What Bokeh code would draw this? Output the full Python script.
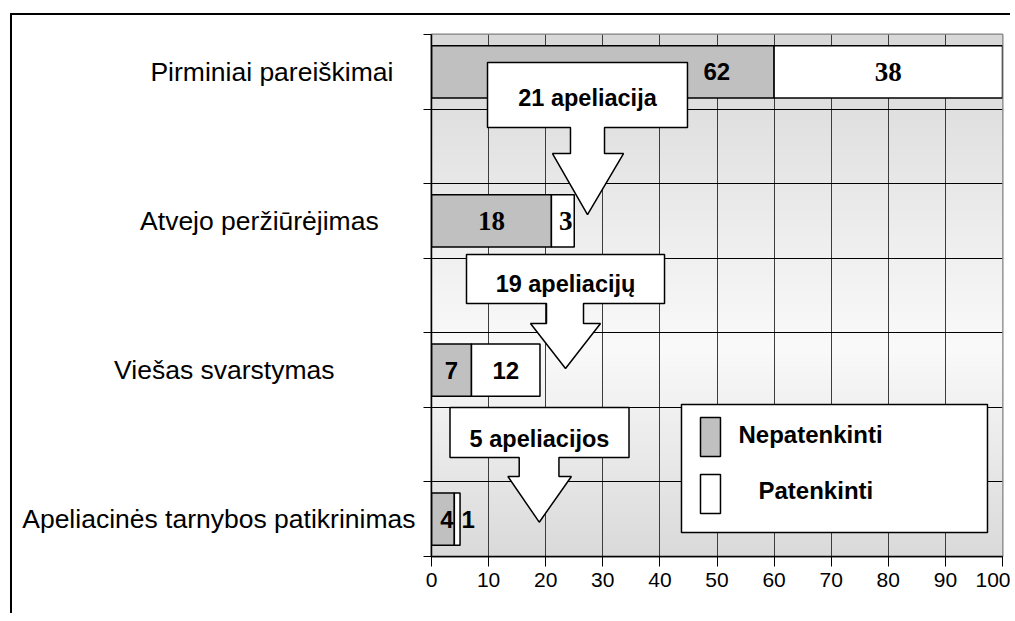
import numpy as np
from bokeh.plotting import figure
from bokeh.models import Range1d, FixedTicker, Label, ColumnDataSource
from bokeh.embed import file_html
from bokeh.resources import INLINE

# ---------------- data ----------------
categories = ["Pirminiai pareiškimai", "Atvejo peržiūrėjimas",
              "Viešas svarstymas", "Apeliacinės tarnybos patikrinimas"]
cat_rows = [0, 2, 4, 6]            # row (of 7) counted from the top
nepatenkinti = [60, 21, 7, 4]      # grey segment lengths as drawn
patenkinti = [40, 4, 12, 1]        # white segment lengths as drawn
nep_labels = ["62", "18", "7", "4"]
pat_labels = ["38", "3", "12", "1"]
appeal_labels = ["21 apeliacija", "19 apeliacijų", "5 apeliacijos"]
legend_labels = ["Nepatenkinti", "Patenkinti"]
x_ticks = [0, 10, 20, 30, 40, 50, 60, 70, 80, 90, 100]
N_ROWS = 7

ys = [N_ROWS - r - 0.5 for r in cat_rows]
totals = [a + b for a, b in zip(nepatenkinti, patenkinti)]

GREY = "#c0c0c0"
SANS = "Liberation Sans"
SERIF = "Liberation Serif"
NB = "\u00a0"

p = figure(width=1000, height=600, output_backend="svg", toolbar_location=None,
           x_range=Range1d(0, 100), y_range=Range1d(0, N_ROWS), title=None,
           min_border_left=419, min_border_right=10, min_border_top=19,
           min_border_bottom=59)
p.styles = {"margin-left": "10px", "margin-top": "13px",
            "border-left": "2px solid black", "border-top": "2px solid black"}
p.background_fill_color = "white"
p.border_fill_color = "white"
p.outline_line_color = "#808080"
p.outline_line_width = 2

# gradient background of plot area
rows = 300
f = 1 - (np.arange(rows) + 0.5) / rows        # fraction from top
v = np.where(f < 0.6, 216 + (250 - 216) * f / 0.6, 250 - (250 - 218) * (f - 0.6) / 0.4)
img = np.zeros((rows, 1), dtype=np.uint32)
view = img.view(dtype=np.uint8).reshape((rows, 1, 4))
view[:, :, 0] = v[:, None].astype(np.uint8)
view[:, :, 1] = v[:, None].astype(np.uint8)
view[:, :, 2] = v[:, None].astype(np.uint8)
view[:, :, 3] = 255
p.image_rgba(image=[img], x=0, y=0, dw=100, dh=N_ROWS, level="image")

# grids
p.xgrid.ticker = FixedTicker(ticks=x_ticks[1:-1])
p.xgrid.grid_line_color = "#3c3c3c"
p.xgrid.grid_line_width = 1
p.ygrid.ticker = FixedTicker(ticks=list(range(1, N_ROWS)))
p.ygrid.grid_line_color = "black"
p.ygrid.grid_line_width = 1

# axes
p.xaxis.ticker = FixedTicker(ticks=x_ticks)
p.xaxis.axis_line_color = "black"
p.xaxis.axis_line_width = 1.5
p.xaxis.major_tick_line_color = "black"
p.xaxis.major_tick_out = 10
p.xaxis.major_tick_in = 0
p.xaxis.minor_tick_line_color = None
p.xaxis.major_label_text_font = SANS
p.xaxis.major_label_text_font_size = "21px"
p.xaxis.major_label_text_color = "black"
p.xaxis.major_label_standoff = 6

# category axis: labels at row centres, tick marks at row boundaries
cat_pad = [3, 5, 11, 0]            # trailing spaces reproduce the uneven label placement
p.yaxis.ticker = FixedTicker(ticks=ys, minor_ticks=list(range(0, N_ROWS + 1)))
p.yaxis.major_label_overrides = {y: c + NB * k for y, c, k in zip(ys, categories, cat_pad)}
p.yaxis.axis_line_color = "black"
p.yaxis.axis_line_width = 1.5
p.yaxis.major_tick_line_color = None
p.yaxis.major_tick_out = 0
p.yaxis.major_tick_in = 0
p.yaxis.minor_tick_line_color = "black"
p.yaxis.minor_tick_out = 8
p.yaxis.minor_tick_in = 0
p.yaxis.major_label_standoff = 8
p.yaxis.major_label_text_font = SANS
p.yaxis.major_label_text_font_size = "26.5px"
p.yaxis.major_label_text_color = "black"

# bars
src = ColumnDataSource(dict(y=ys, nep=nepatenkinti, tot=totals))
p.hbar(y="y", left=0, right="nep", height=0.7, source=src,
       fill_color=GREY, line_color="black", line_width=1.5)
p.hbar(y="y", left="nep", right="tot", height=0.7, source=src,
       fill_color="white", line_color="black", line_width=1.5)

# bar labels (segment centres + pixel nudges as in the original)
nep_fonts = [SANS, SERIF, SANS, SANS]
pat_fonts = [SERIF, SERIF, SANS, SANS]
nep_sizes = ["24px", "27px", "24px", "24px"]
pat_sizes = ["27px", "27px", "24px", "24px"]
nep_nudge = [114, 0, 0, 4]
pat_nudge = [0, 3, 0, 11]
lab = ColumnDataSource(dict(
    x=[n / 2 for n in nepatenkinti] + [n + w / 2 for n, w in zip(nepatenkinti, patenkinti)],
    y=ys + ys,
    t=nep_labels + pat_labels,
    font=nep_fonts + pat_fonts,
    size=nep_sizes + pat_sizes,
    dx=nep_nudge + pat_nudge,
))
p.text(x="x", y="y", text="t", source=lab, x_offset="dx", text_font="font",
       text_font_style="bold", text_font_size="size", text_align="center",
       text_baseline="middle", text_color="black")

# appeal arrows (callout boxes with a down arrow)
arrows = [
    dict(box=(9.81, 44.83, 6.625, 5.753), stem=(24.34, 30.30, 5.404),
         head=(21.19, 33.63), tip=(27.32, 4.586), ty=6.150),
    dict(box=(6.13, 40.81, 4.050, 3.393), stem=(20.14, 26.62, 3.124),
         head=(17.34, 29.60), tip=(23.47, 2.521), ty=3.660),
    dict(box=(3.24, 34.59, 1.998, 1.328), stem=(15.36, 22.32, 1.073),
         head=(13.38, 24.50), tip=(18.87, 0.460), ty=1.580),
]
for a, txt in zip(arrows, appeal_labels):
    bx0, bx1, bt, bb = a["box"]
    sx0, sx1, sy = a["stem"]
    hx0, hx1 = a["head"]
    tx, ty = a["tip"]
    xs = [bx0, bx1, bx1, sx1, sx1, hx1, tx, hx0, sx0, sx0, bx0]
    yy = [bt, bt, bb, bb, sy, sy, ty, sy, sy, bb, bb]
    p.patch(xs, yy, fill_color="white", line_color="black", line_width=1.5)
    p.add_layout(Label(x=(bx0 + bx1) / 2, y=a["ty"], text=txt, text_align="center",
                       text_baseline="alphabetic", text_font=SANS,
                       text_font_style="bold", text_font_size="23.5px",
                       text_color="black"))

# legend
p.quad(left=[43.78], right=[97.37], top=[2.038], bottom=[0.322],
       fill_color="white", line_color="black", line_width=1.5)
p.quad(left=[47.11, 47.11], right=[50.61, 50.61], top=[1.864, 1.100],
       bottom=[1.341, 0.577], fill_color=[GREY, "white"], line_color="black",
       line_width=1.5)
for txt, x, y in zip(legend_labels, [53.77, 57.27], [1.640, 0.880]):
    p.add_layout(Label(x=x, y=y, text=txt, text_align="left",
                       text_baseline="alphabetic", text_font=SANS,
                       text_font_style="bold", text_font_size="24px",
                       text_color="black"))

open("out.html", "w").write(file_html(p, INLINE))
